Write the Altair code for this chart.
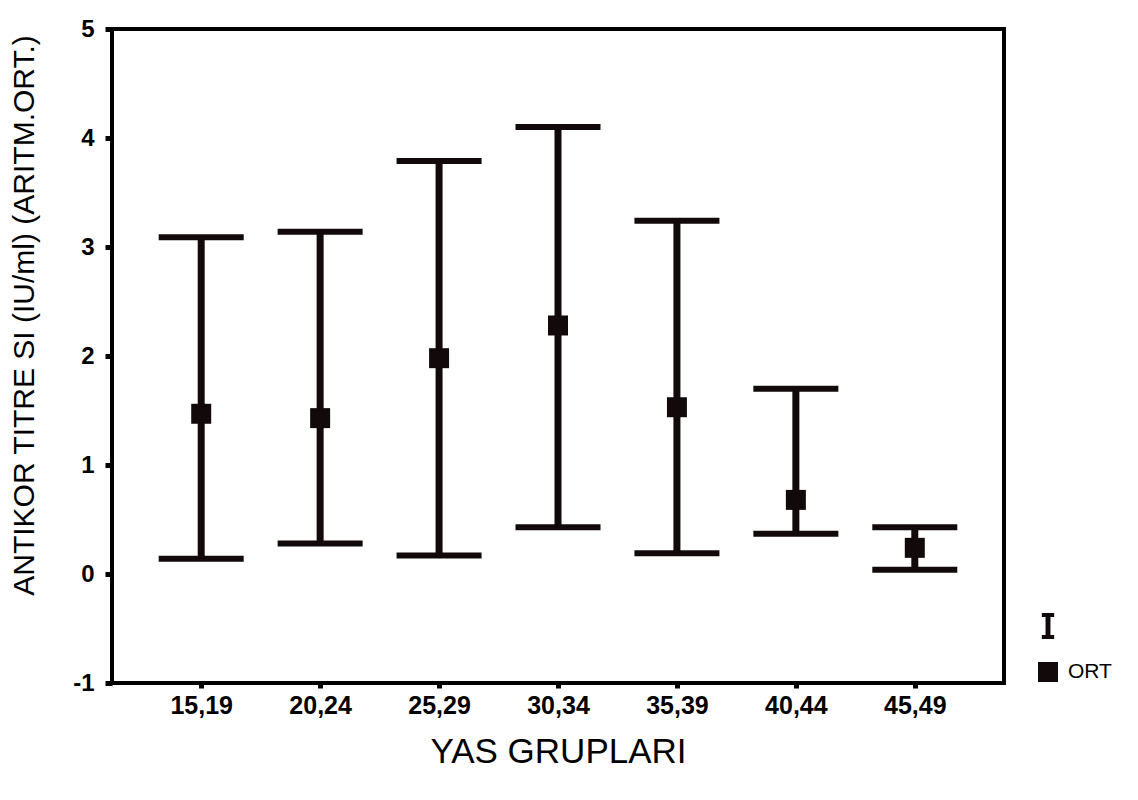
import altair as alt
import pandas as pd

groups = ["15,19", "20,24", "25,29", "30,34", "35,39", "40,44", "45,49"]
means = [1.47, 1.43, 1.98, 2.28, 1.53, 0.68, 0.24]
lows = [0.14, 0.28, 0.17, 0.43, 0.19, 0.37, 0.04]
highs = [3.09, 3.14, 3.79, 4.10, 3.24, 1.70, 0.43]

df = pd.DataFrame({"grp": groups, "mean": means, "lo": lows, "hi": highs, "leg": ["ORT"] * len(groups)})

FONT = "Liberation Sans"
INK = "#120a0a"

I_PATH = "M-0.45,-0.95H0.45V-0.65H0.18V0.65H0.45V0.95H-0.45V0.65H-0.18V-0.65H-0.45Z"
SQ_PATH = "M-0.73,-0.73H0.73V0.73H-0.73Z"

x = alt.X("grp:O", sort=groups,
          scale=alt.Scale(type="point", padding=0.75),
          axis=alt.Axis(title="YAS GRUPLARI", labelAngle=0, domain=False,
                        tickSize=5, tickWidth=5, tickColor="black",
                        labelFont=FONT, labelFontSize=25, labelFontWeight="bold",
                        labelColor="black", labelPadding=5,
                        titleFont=FONT, titleFontSize=35, titleFontWeight="normal",
                        titleColor="black", titlePadding=16))
yscale = alt.Scale(domain=[-1, 5], nice=False, zero=False)
yaxis = alt.Axis(title="ANTIKOR TITRE SI (IU/ml) (ARITM.ORT.)", values=[-1, 0, 1, 2, 3, 4, 5],
                 labelExpr="datum.value < 0 ? '-' + abs(datum.value) : '' + datum.value",
                 grid=False, domain=False, tickSize=7, tickWidth=5, tickColor="black",
                 labelFont=FONT, labelFontSize=24, labelFontWeight="bold", labelColor="black",
                 labelPadding=11, titleFont=FONT, titleFontSize=30, titleFontWeight="normal",
                 titleColor="black", titleAngle=-90, titleX=-79, titleY=286,
                 titleAlign="center", titleBaseline="alphabetic")

base = alt.Chart(df)

stems = base.mark_rule(color=INK, strokeWidth=7, opacity=1).encode(
    x=x, y=alt.Y("lo:Q", scale=yscale, axis=yaxis), y2="hi:Q")
top_caps = base.mark_tick(color=INK, thickness=6, size=85, orient="horizontal", opacity=1).encode(
    x=x, y=alt.Y("hi:Q", scale=yscale))
bot_caps = base.mark_tick(color=INK, thickness=6, size=85, orient="horizontal", opacity=1).encode(
    x=x, y=alt.Y("lo:Q", scale=yscale))
pts = base.mark_point(filled=True, size=750, opacity=1, color=INK, strokeWidth=0).encode(
    x=x, y=alt.Y("mean:Q", scale=yscale),
    shape=alt.Shape("leg:N",
                    scale=alt.Scale(domain=["I", "ORT"], range=[I_PATH, SQ_PATH]),
                    legend=alt.Legend(title=None, orient="none", legendX=922, legendY=583,
                                      padding=0, rowPadding=18, symbolSize=750,
                                      symbolFillColor="black", symbolStrokeWidth=0,
                                      symbolOpacity=1,
                                      labelFont=FONT, labelFontSize=21, labelColor="black",
                                      labelOffset=6,
                                      labelExpr="datum.label == 'I' ? '' : datum.label")))

chart = alt.layer(stems, top_caps, bot_caps, pts).properties(
    width=892, height=654,
    autosize=alt.AutoSizeParams(type="none"),
    padding={"left": 104, "top": 21, "right": 125, "bottom": 100},
).configure(background="white").configure_view(stroke="black", strokeWidth=4)

chart.save("out.html", embed_options={"renderer": "svg", "actions": False})
